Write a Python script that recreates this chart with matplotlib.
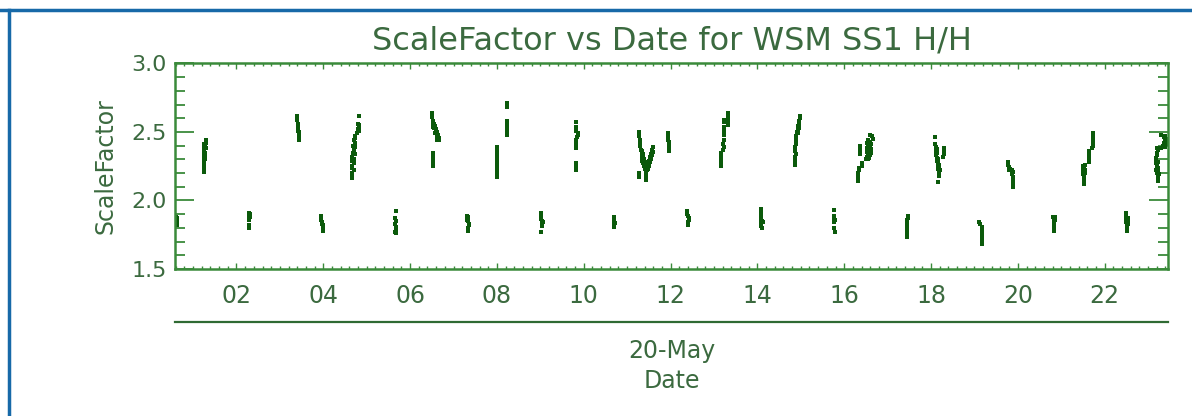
import matplotlib
matplotlib.use('Agg')
import matplotlib.pyplot as plt
from matplotlib.ticker import MultipleLocator, FuncFormatter
from matplotlib.lines import Line2D

# Lower band passes
lower_hours = [
    0.60, 0.62, 0.60, 0.63, 0.61, 0.64, 0.62, 0.60, 0.63,
    2.28, 2.30, 2.28, 2.30, 2.28, 2.29, 2.29, 2.29,
    3.95, 3.95, 3.96, 3.96, 3.99, 3.99, 3.99, 3.99,
    5.67, 5.66, 5.68, 5.66, 5.67, 5.67, 5.67, 5.64, 5.67,
    7.31, 7.34, 7.31, 7.33, 7.35, 7.35, 7.33, 7.33,
    9.02, 9.02, 9.02, 9.04, 9.06, 9.03, 9.03, 9.02,
    10.69, 10.70, 10.69, 10.71, 10.70, 10.69,
    12.38, 12.38, 12.40, 12.42, 12.42, 12.40, 12.40,
    14.09, 14.09, 14.09, 14.09, 14.09, 14.09, 14.11, 14.14, 14.09, 14.09, 14.11,
    15.76, 15.77, 15.76, 15.78, 15.77, 15.76, 15.78,
    17.46, 17.46, 17.44, 17.45, 17.45, 17.44, 17.44, 17.44, 17.44,
    19.10, 19.13, 19.17, 19.17, 19.17, 19.17, 19.17, 19.17, 19.17,
    20.80, 20.86, 20.83, 20.85, 20.83, 20.83, 20.83, 20.83,
    22.49, 22.50, 22.54, 22.50, 22.54, 22.50, 22.53, 22.51, 22.52, 22.52,
]
lower_values = [
    1.88, 1.87, 1.86, 1.85, 1.84, 1.83, 1.82, 1.845, 1.865,
    1.91, 1.90, 1.89, 1.88, 1.87, 1.86, 1.82, 1.80,
    1.89, 1.86, 1.845, 1.83, 1.82, 1.805, 1.79, 1.775,
    1.92, 1.87, 1.85, 1.83, 1.81, 1.795, 1.78, 1.77, 1.76,
    1.89, 1.88, 1.86, 1.85, 1.83, 1.82, 1.80, 1.78,
    1.91, 1.88, 1.865, 1.85, 1.84, 1.83, 1.815, 1.77,
    1.88, 1.865, 1.85, 1.835, 1.82, 1.805,
    1.92, 1.90, 1.89, 1.875, 1.86, 1.845, 1.82,
    1.94, 1.92, 1.905, 1.89, 1.875, 1.86, 1.85, 1.845, 1.83, 1.815, 1.80,
    1.93, 1.89, 1.875, 1.86, 1.845, 1.80, 1.77,
    1.89, 1.875, 1.86, 1.845, 1.83, 1.80, 1.78, 1.75, 1.735,
    1.845, 1.83, 1.81, 1.79, 1.765, 1.74, 1.72, 1.70, 1.685,
    1.88, 1.88, 1.87, 1.86, 1.845, 1.82, 1.795, 1.775,
    1.91, 1.88, 1.875, 1.86, 1.855, 1.84, 1.83, 1.815, 1.795, 1.775,
]

# Upper band passes
upper_hours = [
    1.29, 1.29, 1.24, 1.27, 1.24, 1.29, 1.25, 1.27, 1.24, 1.27, 1.25, 1.27, 1.24, 1.25, 1.25, 1.25, 1.25, 1.25, 1.25,
    3.40, 3.40, 3.41, 3.42, 3.42, 3.42, 3.43, 3.44, 3.44, 3.44, 3.44,
    4.82, 4.80, 4.82, 4.83, 4.80, 4.82, 4.77, 4.73, 4.73, 4.70, 4.73, 4.68, 4.73, 4.70, 4.68, 4.73, 4.66, 4.70,
    4.66, 4.70, 4.66, 4.66, 4.70, 4.66, 4.66, 4.66,
    6.51, 6.51, 6.52, 6.52, 6.55, 6.52, 6.57, 6.55, 6.59, 6.60, 6.62, 6.57, 6.62, 6.64, 6.62, 6.64, 6.66, 6.62, 6.66,
    6.52, 6.52, 6.52, 6.52, 6.52,
    8.00, 8.00, 8.00, 8.00, 8.00, 8.00, 8.00, 8.00, 8.00, 8.00,
    8.23, 8.23, 8.23, 8.23, 8.23, 8.23, 8.23, 8.23, 8.23,
    9.83, 9.83, 9.83, 9.83, 9.87, 9.87, 9.85, 9.82, 9.82, 9.82, 9.82, 9.82, 9.82, 9.82, 9.82, 9.82,
    11.27, 11.27, 11.30, 11.30, 11.30, 11.32, 11.34, 11.36, 11.34, 11.37, 11.34, 11.38, 11.35, 11.40, 11.37, 11.42,
    11.38, 11.44, 11.41, 11.45, 11.43, 11.44, 11.44, 11.44, 11.60, 11.58, 11.59, 11.56, 11.57, 11.53, 11.55, 11.51,
    11.53, 11.49, 11.50, 11.47, 11.48, 11.27, 11.27,
    11.94, 11.94, 11.95, 11.95, 11.96, 11.96, 11.96, 11.97, 11.97,
    13.33, 13.33, 13.32, 13.33, 13.24, 13.24, 13.24, 13.23, 13.24, 13.22, 13.21, 13.22, 13.21, 13.16, 13.17, 13.16,
    13.17, 13.16, 13.17, 13.16, 13.17, 13.16,
    14.98, 14.98, 14.96, 14.96, 14.94, 14.96, 14.94, 14.92, 14.94, 14.90, 14.88, 14.88, 14.90, 14.87, 14.87, 14.88,
    14.87, 14.87, 14.87, 14.87,
    16.60, 16.65, 16.67, 16.55, 16.60, 16.52, 16.57, 16.62, 16.54, 16.59, 16.52, 16.57, 16.62, 16.55, 16.60, 16.52,
    16.57, 16.62, 16.55, 16.59, 16.53, 16.57, 16.50, 16.55, 16.36, 16.36, 16.36, 16.40, 16.41, 16.33, 16.33, 16.32,
    16.32, 16.32, 16.32,
    18.10, 18.10, 18.12, 18.14, 18.12, 18.14, 18.12, 18.30, 18.30, 18.29, 18.28, 18.13, 18.16, 18.14, 18.17, 18.15,
    18.18, 18.16, 18.19, 18.17, 18.20, 18.18, 18.19, 18.19, 18.17,
    19.78, 19.78, 19.80, 19.82, 19.80, 19.87, 19.88, 19.87, 19.89, 19.88, 19.88, 19.89, 19.89,
    21.73, 21.73, 21.74, 21.73, 21.74, 21.72, 21.70, 21.65, 21.65, 21.64, 21.64, 21.63, 21.55, 21.50, 21.53, 21.50,
    21.54, 21.51, 21.54, 21.51, 21.53, 21.52, 21.53, 21.53,
    23.30, 23.40, 23.36, 23.42, 23.38, 23.43, 23.37, 23.42, 23.35, 23.40, 23.30, 23.20, 23.25, 23.22, 23.20, 23.20,
    23.18, 23.19, 23.22, 23.18, 23.20, 23.22, 23.19, 23.24, 23.20, 23.26, 23.22, 23.24, 23.22,
]
upper_values = [
    2.44, 2.42, 2.41, 2.40, 2.385, 2.38, 2.36, 2.35, 2.345, 2.335, 2.32, 2.305, 2.30, 2.285, 2.27, 2.255, 2.24, 2.225, 2.21,
    2.62, 2.59, 2.56, 2.54, 2.525, 2.51, 2.50, 2.49, 2.475, 2.46, 2.445,
    2.62, 2.56, 2.55, 2.535, 2.52, 2.505, 2.49, 2.47, 2.455, 2.44, 2.42, 2.40, 2.39, 2.37, 2.35, 2.34, 2.32, 2.30,
    2.285, 2.27, 2.25, 2.235, 2.22, 2.20, 2.185, 2.165,
    2.64, 2.61, 2.58, 2.555, 2.56, 2.54, 2.545, 2.53, 2.52, 2.505, 2.50, 2.49, 2.485, 2.48, 2.47, 2.46, 2.455, 2.445, 2.44,
    2.35, 2.32, 2.29, 2.27, 2.255,
    2.39, 2.37, 2.35, 2.32, 2.30, 2.27, 2.25, 2.23, 2.20, 2.175,
    2.71, 2.68, 2.58, 2.565, 2.55, 2.535, 2.52, 2.50, 2.48,
    2.57, 2.535, 2.52, 2.505, 2.49, 2.475, 2.46, 2.44, 2.425, 2.41, 2.395, 2.38, 2.27, 2.255, 2.235, 2.22,
    2.50, 2.47, 2.44, 2.42, 2.40, 2.37, 2.36, 2.34, 2.33, 2.32, 2.31, 2.30, 2.29, 2.28, 2.27, 2.26,
    2.25, 2.24, 2.23, 2.22, 2.21, 2.19, 2.17, 2.15, 2.39, 2.37, 2.355, 2.34, 2.33, 2.32, 2.305, 2.29,
    2.28, 2.27, 2.255, 2.245, 2.23, 2.20, 2.17,
    2.49, 2.47, 2.455, 2.44, 2.425, 2.41, 2.395, 2.375, 2.36,
    2.64, 2.61, 2.58, 2.55, 2.59, 2.57, 2.54, 2.51, 2.48, 2.44, 2.41, 2.39, 2.37, 2.35, 2.34, 2.325,
    2.31, 2.30, 2.285, 2.27, 2.26, 2.25,
    2.62, 2.60, 2.58, 2.56, 2.545, 2.53, 2.515, 2.50, 2.49, 2.47, 2.45, 2.43, 2.41, 2.39, 2.36, 2.34,
    2.32, 2.30, 2.28, 2.26,
    2.48, 2.47, 2.45, 2.44, 2.43, 2.42, 2.415, 2.41, 2.40, 2.395, 2.385, 2.38, 2.375, 2.37, 2.36, 2.355,
    2.35, 2.345, 2.34, 2.33, 2.32, 2.31, 2.30, 2.30, 2.40, 2.37, 2.34, 2.27, 2.25, 2.24, 2.22, 2.20,
    2.18, 2.16, 2.14,
    2.46, 2.41, 2.39, 2.375, 2.36, 2.345, 2.33, 2.38, 2.36, 2.34, 2.32, 2.31, 2.30, 2.29, 2.28, 2.27,
    2.26, 2.25, 2.24, 2.23, 2.22, 2.21, 2.20, 2.18, 2.135,
    2.28, 2.26, 2.245, 2.23, 2.22, 2.225, 2.21, 2.19, 2.175, 2.16, 2.14, 2.12, 2.10,
    2.49, 2.47, 2.45, 2.43, 2.42, 2.40, 2.38, 2.36, 2.34, 2.32, 2.30, 2.28, 2.26, 2.25, 2.24, 2.23,
    2.22, 2.21, 2.20, 2.19, 2.18, 2.16, 2.14, 2.12,
    2.48, 2.47, 2.46, 2.45, 2.44, 2.43, 2.42, 2.41, 2.40, 2.39, 2.38, 2.385, 2.38, 2.37, 2.35, 2.33,
    2.31, 2.29, 2.28, 2.27, 2.25, 2.24, 2.22, 2.21, 2.20, 2.19, 2.18, 2.16, 2.145,
]

hour_range = (0.583, 23.46)
value_range = (1.5, 3.0)
title = 'ScaleFactor vs Date for WSM SS1 H/H'
day_label = '20-May'

frame_col = '#3a8a3a'
text_col = '#3b6a3f'
point_col = '#0b5a0b'

fig = plt.figure(figsize=(11.92, 4.16), dpi=100)
fig.patch.set_facecolor('white')

# page border (blue line top and left)
fig.add_artist(Line2D([0, 1], [0.976, 0.976], transform=fig.transFigure, color='#1769a8', lw=2.5))
fig.add_artist(Line2D([0.0078, 0.0078], [0, 0.976], transform=fig.transFigure, color='#1769a8', lw=2.5))

left, width = 0.1468, 0.8331
ax = fig.add_axes([left, 0.3534, width, 0.494])
ax.plot(lower_hours, lower_values, 's', color=point_col, ms=2.2, mew=0)
ax.plot(upper_hours, upper_values, 's', color=point_col, ms=2.2, mew=0)

ax.set_xlim(*hour_range)
ax.set_ylim(*value_range)
for s in ax.spines.values():
    s.set_color(frame_col)
    s.set_linewidth(1.8)

ax.yaxis.set_major_locator(MultipleLocator(0.5))
ax.yaxis.set_minor_locator(MultipleLocator(0.1))
ax.xaxis.set_major_locator(MultipleLocator(2))
ax.xaxis.set_minor_locator(MultipleLocator(0.2))
ax.yaxis.set_major_formatter(FuncFormatter(lambda v, p: f'{v:.1f}'))
ax.tick_params(axis='y', which='both', direction='in', left=True, right=True,
               color=frame_col, width=1.3, labelcolor=text_col, labelsize=16, pad=6)
ax.tick_params(axis='y', which='major', length=14)
ax.tick_params(axis='y', which='minor', length=7)
ax.tick_params(axis='x', which='both', direction='in', top=True, bottom=True,
               labelbottom=False, color=frame_col, width=1.0)
ax.tick_params(axis='x', which='major', length=4.5)
ax.tick_params(axis='x', which='minor', length=2.2)
ax.set_ylabel('ScaleFactor', color=text_col, fontsize=17, labelpad=10)
ax.set_title(title, color=text_col, fontsize=23, pad=10)

# separate date axis below the plot
ax2 = fig.add_axes([left, 0.226, width, 1e-6])
ax2.set_xlim(*hour_range)
ax2.patch.set_visible(False)
ax2.set_yticks([])
for name in ['top', 'left', 'right']:
    ax2.spines[name].set_visible(False)
ax2.spines['bottom'].set_color('#2f6a33')
ax2.spines['bottom'].set_linewidth(1.6)
ax2.xaxis.set_major_locator(MultipleLocator(2))
ax2.xaxis.set_major_formatter(FuncFormatter(lambda v, p: f'{int(round(v)):02d}'))
ax2.xaxis.set_ticks_position('top')
ax2.tick_params(axis='x', length=0, pad=10, labelsize=17, labelcolor=text_col)
ax2.xaxis.set_label_position('bottom')
ax2.set_xlabel(day_label + '\nDate', color=text_col, fontsize=17, labelpad=12, linespacing=1.35)

fig.savefig('out.png', dpi=100, facecolor='white')
